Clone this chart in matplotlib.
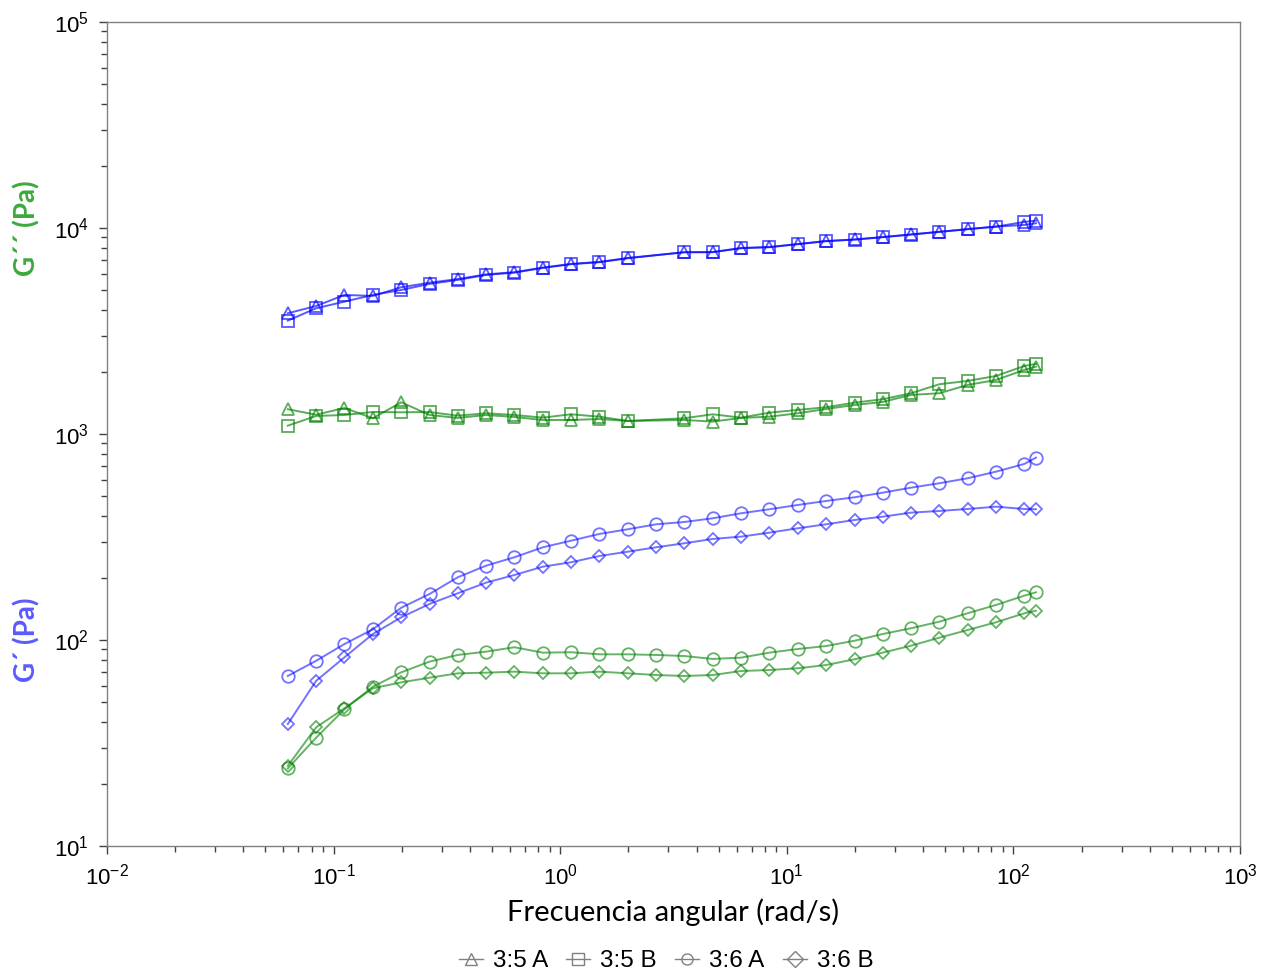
import numpy as np
import matplotlib.pyplot as plt
from matplotlib.lines import Line2D
from matplotlib.ticker import LogLocator, NullFormatter

plt.rcParams['font.family'] = ['Liberation Sans', 'DejaVu Sans']
plt.rcParams['mathtext.fontset'] = 'custom'
plt.rcParams['mathtext.rm'] = 'Liberation Sans'
plt.rcParams['mathtext.it'] = 'Liberation Sans'

# angular frequency (rad/s); 3:5 runs have no point at 2.65
freq_36 = [0.0628, 0.0838, 0.1117, 0.149, 0.199, 0.265, 0.353, 0.471, 0.628, 0.838,
           1.117, 1.49, 1.99, 2.65, 3.53, 4.71, 6.28, 8.38, 11.17, 14.9,
           19.9, 26.5, 35.3, 47.1, 62.8, 83.8, 111.7, 125.7]
freq_35 = [f for f in freq_36 if f != 2.65]

# blue curves
blue_35A = [3853, 4180, 4730, 4676, 5154, 5420, 5650, 5950, 6100, 6420, 6690, 6840, 7150,
            7620, 7640, 7990, 8080, 8350, 8640, 8790, 9030, 9300, 9580, 9870, 10150, 10340, 10540]
blue_35B = [3548, 4076, 4387, 4729, 5000, 5349, 5592, 5913, 6067, 6395, 6665, 6816, 7127,
            7621, 7621, 7970, 8060, 8336, 8620, 8776, 9015, 9280, 9563, 9856, 10146, 10693, 10850]
blue_36A = [66.9, 79.3, 95.6, 112.7, 143.5, 167.2, 201.5, 229.5, 252.1, 281.8, 303.4, 327.1, 344.7,
            364.4, 373.9, 389.7, 412.1, 431, 452.1, 472.9, 492.8, 518.8, 548.7, 576.4, 609.5,
            656.1, 715.2, 767.4]
blue_36B = [39.1, 63.4, 82.4, 106.9, 128.9, 149.6, 168.5, 189.8, 206.8, 226.9, 238.4, 255.7, 268.3,
            281.8, 294.7, 309.3, 317.4, 331.9, 348.5, 364.4, 382.3, 396.8, 415, 422.9, 432.4,
            443.7, 432.4, 431]

# green curves
green_35A = [1318, 1240, 1337, 1192, 1425, 1236, 1196, 1236, 1209, 1169, 1169, 1182, 1156,
             1169, 1148, 1196, 1213, 1260, 1322, 1383, 1430, 1547, 1576, 1729, 1829, 2045, 2122]
green_35B = [1097, 1223, 1236, 1279, 1274, 1277, 1227, 1260, 1236, 1200, 1246, 1213, 1156,
             1192, 1246, 1200, 1269, 1308, 1348, 1419, 1474, 1576, 1743, 1809, 1912, 2138, 2186]
green_36A = [23.8, 33.6, 46.1, 59.3, 69.7, 78.5, 84.6, 87.8, 92.2, 86.8, 87.2, 85.2, 85.2,
             84.6, 83.6, 80.9, 82.1, 86.8, 90.4, 93.5, 99.2, 106.9, 114, 122.7, 134.8,
             147.9, 164.1, 170.4]
green_36B = [24.5, 37.7, 46.6, 58.3, 62.3, 65.6, 68.9, 69.4, 70.2, 68.9, 68.9, 70.2, 68.9,
             67.6, 66.9, 67.6, 70.7, 71.5, 72.9, 75.6, 80.6, 86.8, 93.8, 102.6, 111.8,
             121.9, 134.8, 138.8]

labels = ['3:5 A', '3:5 B', '3:6 A', '3:6 B']
markers = ['^', 's', 'o', 'D']
msizes = [8, 8, 9, 6]

BLUE = '#0000ff'
GREEN = '#008000'

fig = plt.figure(figsize=(12.66, 9.73), dpi=100)
ax = fig.add_axes([0.0845, 0.1305, 0.895, 0.847])

series = [
    (freq_35, blue_35A, BLUE, 0, 0.65), (freq_35, blue_35B, BLUE, 1, 0.65),
    (freq_36, blue_36A, BLUE, 2, 0.55), (freq_36, blue_36B, BLUE, 3, 0.55),
    (freq_35, green_35A, GREEN, 0, 0.65), (freq_35, green_35B, GREEN, 1, 0.65),
    (freq_36, green_36A, GREEN, 2, 0.6), (freq_36, green_36B, GREEN, 3, 0.6),
]
for x, y, c, k, a in series:
    ax.plot(x, y, color=c, alpha=a, lw=1.4, marker=markers[k], ms=msizes[k],
            mfc='none', mec=c, mew=1.3)

ax.set_xscale('log')
ax.set_yscale('log')
ax.set_xlim(1e-2, 1e3)
ax.set_ylim(1e1, 1e5)

for s in ax.spines.values():
    s.set_color('#808080')
    s.set_linewidth(1.0)

ax.xaxis.set_major_locator(LogLocator(base=10, numticks=10))
ax.yaxis.set_major_locator(LogLocator(base=10, numticks=10))
ax.xaxis.set_minor_locator(LogLocator(base=10, subs=np.arange(2, 10), numticks=20))
ax.yaxis.set_minor_locator(LogLocator(base=10, subs=np.arange(2, 10), numticks=20))
ax.xaxis.set_minor_formatter(NullFormatter())
ax.yaxis.set_minor_formatter(NullFormatter())
ax.tick_params(which='major', direction='out', length=6, width=1, color='#404040',
               labelsize=16, pad=7, top=False, right=False)
ax.tick_params(which='minor', direction='out', length=4, width=1, color='#404040',
               top=False, right=False)

ax.set_xlabel('Frecuencia angular (rad/s)', fontsize=21, family='Lato', labelpad=6)

fig.text(0.021, 0.765, 'G´´ (Pa)', rotation=90, ha='center', va='center',
         fontsize=20, fontweight='bold', family='Lato', color='#3caa3c')
fig.text(0.021, 0.342, 'G´ (Pa)', rotation=90, ha='center', va='center',
         fontsize=20, fontweight='bold', family='Lato', color='#5a5aff')

handles = [Line2D([], [], color='#808080', lw=1, marker=m, ms=8, mfc='none', mec='#808080')
           for m in markers]
fig.legend(handles, labels, loc='center', bbox_to_anchor=(0.526, 0.012), ncol=4,
           frameon=False, fontsize=17.5, handlelength=1.0, handletextpad=0.4,
           columnspacing=0.75)

fig.savefig('out.png', dpi=100)
